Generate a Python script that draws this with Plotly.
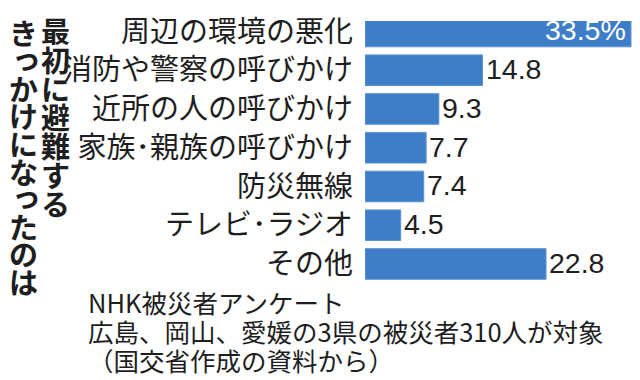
import plotly.graph_objects as go

categories = ["周辺の環境の悪化", "消防や警察の呼びかけ", "近所の人の呼びかけ", "家族･親族の呼びかけ",
              "防災無線", "テレビ･ラジオ", "その他"]
values = [33.5, 14.8, 9.3, 7.7, 7.4, 4.5, 22.8]
value_labels = ["33.5%", "14.8", "9.3", "7.7", "7.4", "4.5", "22.8"]
title_col1 = "最初に避難する"
title_col2 = "きっかけになったのは"
footer_lines = ["NHK被災者アンケート",
                "広島、岡山、愛媛の3県の被災者310人が対象",
                "（国交省作成の資料から）"]

# the page body has an 8px margin, so the figure is drawn 8px right/down
OFF = 8
W, H = 640 - OFF, 380 - OFF
ML, MR, MT, MB = 365 - OFF, 0, 0, 97
PW, PH = W - ML - MR, H - MT - MB

def px_x(px):
    return (px - OFF - ML) / PW

def px_y(py):
    return (H - MB - (py - OFF)) / PH

JP = "Noto Sans CJK JP"
NUM = "Liberation Sans, Arial, sans-serif"
TXT = "#1e1e1e"

fig = go.Figure(go.Bar(
    x=values, y=categories, orientation="h",
    marker=dict(color="#3e7ec9", line=dict(color="#5b93d3", width=1)),
    width=0.79, hoverinfo="skip",
))

ann = []
for i, (c, v, t) in enumerate(zip(categories, values, value_labels)):
    if i == 0:
        ann.append(dict(x=v, y=c, text=t, xref="x", yref="y", xanchor="right", yanchor="middle",
                        xshift=-3, yshift=1, showarrow=False, font=dict(family=NUM, size=28.5, color="white")))
    else:
        ann.append(dict(x=v, y=c, text=t, xref="x", yref="y", xanchor="left", yanchor="middle",
                        xshift=1, yshift=1, showarrow=False, font=dict(family=NUM, size=28.5, color=TXT)))

# vertical title, one character per annotation
for k, ch in enumerate(title_col1):
    ann.append(dict(x=px_x(55.5), y=px_y(17 + 30.4 * k), xref="paper", yref="paper",
                    text="<b>" + ch + "</b>", showarrow=False, xanchor="center", yanchor="middle",
                    font=dict(family=JP, size=29, color=TXT)))
for k, ch in enumerate(title_col2):
    small = ch in "っ"
    ann.append(dict(x=px_x(23.5), y=px_y(20 + 29 * k), xref="paper", yref="paper",
                    text="<b>" + ch + "</b>", showarrow=False, xanchor="center", yanchor="middle",
                    xshift=(3 if small else 0), yshift=(3 if small else 0),
                    font=dict(family=JP, size=29, color=TXT)))

for k, line in enumerate(footer_lines):
    ann.append(dict(x=px_x(86), y=px_y(302 + 30.5 * k), xref="paper", yref="paper",
                    text=line, showarrow=False, xanchor="left", yanchor="middle",
                    font=dict(family=JP, size=25.5, color=TXT)))

# bar centres: first at screen y=19, pitch 40.67
a = -(19 - OFF) / 40.67
fig.update_layout(
    width=W, height=H,
    margin=dict(l=ML, r=MR, t=MT, b=MB, pad=0),
    paper_bgcolor="white", plot_bgcolor="white",
    showlegend=False,
    bargap=0.21,
    xaxis=dict(range=[0, PW / 7.94], visible=False, fixedrange=True),
    yaxis=dict(categoryorder="array", categoryarray=categories, range=[a + PH / 40.67, a],
               ticks="", showgrid=False, zeroline=False, showline=False,
               ticklabelstandoff=11,
               tickfont=dict(family=JP, size=29, color=TXT), fixedrange=True),
    annotations=ann,
)

fig.write_html("out.html", config={"displayModeBar": False})
